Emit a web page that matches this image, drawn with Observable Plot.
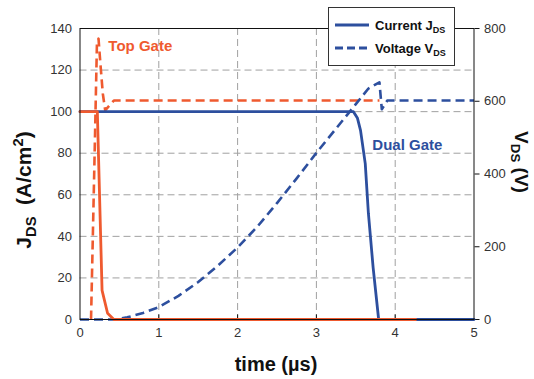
<!DOCTYPE html>
<html><head><meta charset="utf-8">
<script src="https://cdn.jsdelivr.net/npm/d3@7"></script>
<script src="https://cdn.jsdelivr.net/npm/@observablehq/plot@0.6"></script>
<style>
body{margin:0;background:#fff;font-family:"Liberation Sans",Arial,sans-serif;}
#wrap{position:relative;width:534px;height:379px;overflow:hidden;}
.lab{position:absolute;font-weight:bold;color:#111;white-space:nowrap;line-height:1;}
.lab sub{font-size:0.7em;vertical-align:-0.3em;}
.lab sup{font-size:0.7em;vertical-align:0.55em;}
</style></head><body><div id="wrap"></div>
<script>
// ---- tick labels ----
const timeTicks = [0, 1, 2, 3, 4, 5];
const currentTicks = [0, 20, 40, 60, 80, 100, 120, 140];
const voltageTicks = [0, 200, 400, 600, 800];

// ---- Top Gate (orange) ----
const topGateCurrentT = [0, 0.22, 0.28, 0.35, 0.43, 4.26];
const topGateCurrentJ = [100, 100, 14, 3, 0, 0];
const topGateVoltageT = [0.14, 0.19, 0.215, 0.235, 0.26, 0.29, 0.32, 0.43, 3.8];
const topGateVoltageV = [0, 500, 760, 772, 700, 620, 575, 602, 602];

// ---- Dual Gate (blue) ----
const dualGateCurrentT = [0, 3.47, 3.52, 3.56, 3.62, 3.66, 3.72, 3.79, 5];
const dualGateCurrentJ = [100, 100, 97, 91, 75, 51, 25, 0, 0];
const dualGateVoltageT = [0, 0.45, 0.6, 0.8, 1.0, 1.25, 1.5, 1.75, 2.0, 2.25, 2.5, 2.75, 3.0, 3.25, 3.5, 3.66, 3.8, 3.83, 3.9, 5];
const dualGateVoltageV = [0, 0, 6, 18, 34, 65, 103, 148, 198, 255, 320, 388, 458, 525, 592, 635, 652, 578, 602, 602];

const ORANGE = "#EF5A2F";
const BLUE = "#2D4F9E";
const V2J = 140 / 800; // right axis 0–800 V maps onto left axis 0–140

const toJ = v => v.map(d => d * V2J);
const FONT = '"Liberation Sans", Arial, sans-serif';

const plot = Plot.plot({
  width: 534, height: 379,
  marginLeft: 79.5, marginRight: 60.5, marginTop: 28, marginBottom: 60,
  x: {domain: [0, 5]},
  y: {domain: [0, 140]},
  style: {fontFamily: FONT, fontSize: "13px", color: "#333", background: "transparent"},
  marks: [
    Plot.gridY(currentTicks.filter(d => d > 0 && d < 140), {stroke: "#a0a0a0", strokeOpacity: 1, strokeDasharray: "7,4"}),
    Plot.gridX(timeTicks.filter(d => d > 0 && d < 5), {stroke: "#a0a0a0", strokeOpacity: 1, strokeDasharray: "7,4"}),
    Plot.axisX(timeTicks, {tickSize: 0, tickPadding: 8, label: null, fontSize: 13}),
    Plot.axisY(currentTicks, {tickSize: 0, tickPadding: 8, label: null, fontSize: 13}),
    Plot.axisY(toJ(voltageTicks), {anchor: "right", tickSize: 5, tickPadding: 5, label: null, fontSize: 13,
      tickFormat: d => String(Math.round(d / V2J)), stroke: "#111"}),
    Plot.ruleX(timeTicks.filter(d => d > 0 && d < 5), {y1: 0, y2: 2.2, stroke: "#111"}),
    Plot.line(topGateVoltageT, {x: topGateVoltageT, y: toJ(topGateVoltageV), stroke: ORANGE, strokeWidth: 2.6, strokeDasharray: "9,5", strokeLinecap: "butt"}),
    Plot.line(dualGateVoltageT, {x: dualGateVoltageT, y: toJ(dualGateVoltageV), stroke: BLUE, strokeWidth: 2.6, strokeDasharray: "9,5", strokeLinecap: "butt"}),
    Plot.line(dualGateCurrentT, {x: dualGateCurrentT, y: dualGateCurrentJ, stroke: BLUE, strokeWidth: 2.8}),
    Plot.line(topGateCurrentT, {x: topGateCurrentT, y: topGateCurrentJ, stroke: ORANGE, strokeWidth: 2.8}),
    Plot.text(["Top Gate"], {x: 0.36, y: 131.5, textAnchor: "start", fill: ORANGE, fontSize: 15, fontWeight: "bold"}),
    Plot.text(["Dual Gate"], {x: 3.71, y: 83.7, textAnchor: "start", fill: BLUE, fontSize: 15, fontWeight: "bold"}),
    Plot.frame({stroke: "#111"})
  ]
});

const wrap = document.getElementById("wrap");
wrap.appendChild(plot);

// axis titles
const addLab = (html, cx, cy, rot, size) => {
  const d = document.createElement("div");
  d.className = "lab";
  d.innerHTML = html;
  d.style.fontSize = size + "px";
  d.style.left = cx + "px";
  d.style.top = cy + "px";
  d.style.transform = `translate(-50%,-50%) rotate(${rot}deg)`;
  wrap.appendChild(d);
};
addLab("J<sub>DS</sub>&nbsp; (A/cm<sup>2</sup>)", 25, 190, -90, 21);
addLab("V<sub>DS</sub> (V)", 520, 162, 90, 19);
addLab("time (µs)", 276, 364, 0, 20);

// legend
const NS = "http://www.w3.org/2000/svg";
const lg = document.createElementNS(NS, "svg");
lg.setAttribute("width", 128); lg.setAttribute("height", 60);
lg.style.position = "absolute"; lg.style.left = "328px"; lg.style.top = "7px";
lg.innerHTML = `
  <rect x="0.5" y="0.5" width="126" height="58" fill="#fff" stroke="#333" stroke-width="1"/>
  <line x1="7" x2="41" y1="18" y2="18" stroke="${BLUE}" stroke-width="2.8"/>
  <line x1="7" x2="41" y1="41" y2="41" stroke="${BLUE}" stroke-width="2.8" stroke-dasharray="8,4"/>
  <text x="47" y="23" font-family='${FONT}' font-weight="bold" font-size="13" fill="#111">Current J<tspan font-size="9" dy="3">DS</tspan></text>
  <text x="47" y="46" font-family='${FONT}' font-weight="bold" font-size="13" fill="#111">Voltage V<tspan font-size="9" dy="3">DS</tspan></text>`;
wrap.appendChild(lg);
</script>
</body></html>
